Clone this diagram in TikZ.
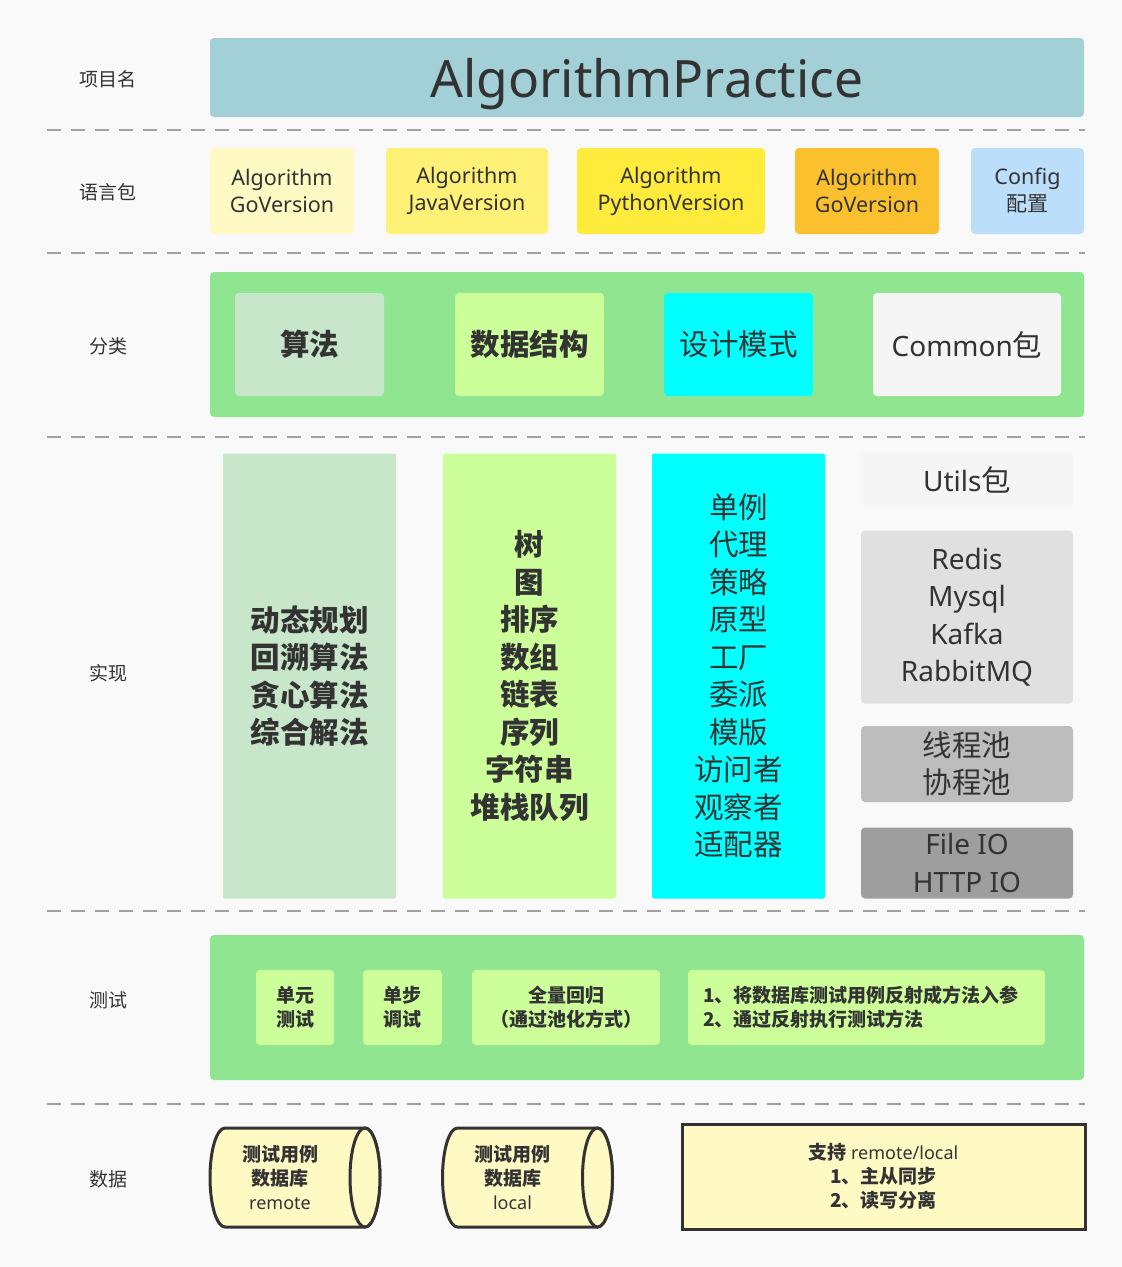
\documentclass[tikz,border=0pt]{standalone}
\usepackage{fontspec}
\setmainfont{Noto Sans CJK SC}
\newfontfamily\lat{Noto Sans}
\usetikzlibrary{calc}

\definecolor{bg}{HTML}{F9F9F9}
\definecolor{ink}{HTML}{333333}
\definecolor{sepgray}{HTML}{A0A0A0}
\definecolor{titlefill}{HTML}{A2D0D6}
\definecolor{goA}{HTML}{FFF9C4}
\definecolor{javaF}{HTML}{FFF176}
\definecolor{pyF}{HTML}{FFEB3B}
\definecolor{goB}{HTML}{FBC02D}
\definecolor{cfgF}{HTML}{BBDEFB}
\definecolor{panel}{HTML}{90E591}
\definecolor{algF}{HTML}{C8E6C9}
\definecolor{dsF}{HTML}{CCFF99}
\definecolor{dpF}{HTML}{00FFFF}
\definecolor{utilF}{HTML}{F5F5F5}
\definecolor{mwF}{HTML}{E0E0E0}
\definecolor{poolF}{HTML}{BDBDBD}
\definecolor{ioF}{HTML}{9E9E9E}
\definecolor{dbF}{HTML}{FFF9C4}

\tikzset{
  box/.style={rectangle, rounded corners=4pt, draw=none, text=ink, align=center, inner sep=0pt},
  rowlabel/.style={text=ink, font=\fontsize{19}{23}\selectfont},
  sepline/.style={draw=sepgray, line width=2pt, dash pattern=on 14pt off 10pt},
  langtxt/.style={font=\lat\fontsize{21.5}{27}\selectfont},
  cattxt/.style={font=\fontsize{29.5}{34}\selectfont},
  impltxt/.style={font=\fontsize{29.5}{37.5}\selectfont},
  impllat/.style={font=\lat\fontsize{28}{37.5}\selectfont},
  testtxt/.style={font=\bfseries\fontsize{19}{24}\selectfont},
  dbline/.style={draw=ink, line width=3pt, fill=dbF},
}

\begin{document}
\begin{tikzpicture}[x=1pt, y=-1pt]
  % canvas
  \path[fill=bg] (0,0) rectangle (1122,1267);

  % separators between the rows
  \foreach \yy/\nm in {130/s1, 253/s2, 437/s3, 911/s4, 1104/s5}{
    \coordinate (\nm a) at (47,\yy);
    \coordinate (\nm b) at (1085,\yy);
    \draw[sepline] (\nm a) -- (\nm b);
  }

  % row labels
  \node[rowlabel] (l1) at (108,79)   {项目名};
  \node[rowlabel] (l2) at (108,192)  {语言包};
  \node[rowlabel] (l3) at (108,346)  {分类};
  \node[rowlabel] (l4) at (108,673)  {实现};
  \node[rowlabel] (l5) at (108,1000) {测试};
  \node[rowlabel] (l6) at (108,1179) {数据};

  % project name
  \node[box, fill=titlefill, minimum width=874, minimum height=79] (title) at (647,77.5) {};
  \node[text=ink, font=\lat\fontsize{51.5}{60}\selectfont, anchor=base] (titletxt) at (647,97.5) {AlgorithmPractice};

  % language packages
  \node[box, langtxt, fill=goA,   minimum width=144, minimum height=86] (go1) at (282,191)    {Algorithm\\GoVersion};
  \node[box, langtxt, fill=javaF, minimum width=162, minimum height=86] (java) at (467,191)   {Algorithm\\JavaVersion};
  \node[box, langtxt, fill=pyF,   minimum width=188, minimum height=86] (py) at (671,191)     {Algorithm\\PythonVersion};
  \node[box, langtxt, fill=goB,   minimum width=144, minimum height=86] (go2) at (867,191)    {Algorithm\\GoVersion};
  \node[box, langtxt, fill=cfgF,  minimum width=113, minimum height=86] (cfg) at (1027.5,191) {Config\\\normalfont\fontsize{21}{27}\selectfont 配置};

  % categories
  \node[box, fill=panel, minimum width=874, minimum height=145] (catpanel) at (647,344.5) {};
  \node[box, cattxt, fill=algF,  minimum width=149, minimum height=103] (alg) at (309.5,344.5) {\bfseries 算法};
  \node[box, cattxt, fill=dsF,   minimum width=149, minimum height=103] (ds) at (529.5,344.5)  {\bfseries 数据结构};
  \node[box, cattxt, fill=dpF,   minimum width=149, minimum height=103] (dp) at (738.5,344.5)  {设计模式};
  \node[box, cattxt, fill=utilF, minimum width=188, minimum height=103] (com) at (967,344.5)   {{\lat\fontsize{28}{34}\selectfont Common}包};

  % implementations
  \node[box, impltxt, fill=algF, rounded corners=2pt, minimum width=173, minimum height=445] (algI) at (309.5,676)
    {\bfseries 动态规划\\\bfseries 回溯算法\\\bfseries 贪心算法\\\bfseries 综合解法};
  \node[box, impltxt, fill=dsF, rounded corners=2pt, minimum width=173, minimum height=445] (dsI) at (529.5,676)
    {\bfseries 树\\\bfseries 图\\\bfseries 排序\\\bfseries 数组\\\bfseries 链表\\\bfseries 序列\\\bfseries 字符串\\\bfseries 堆栈队列};
  \node[box, impltxt, fill=dpF, rounded corners=2pt, minimum width=173, minimum height=445] (dpI) at (738.5,676)
    {单例\\代理\\策略\\原型\\工厂\\委派\\模版\\访问者\\观察者\\适配器};
  \node[box, impltxt, fill=utilF, minimum width=212, minimum height=53] (util) at (967,479.5) {{\lat\fontsize{28}{34}\selectfont Utils}包};
  \node[box, impllat, fill=mwF, minimum width=212, minimum height=173] (mw) at (967,617)
    {Redis\\Mysql\\Kafka\\RabbitMQ};
  \node[box, impltxt, fill=poolF, minimum width=212, minimum height=76] (pool) at (967,764) {线程池\\协程池};
  \node[box, impllat, fill=ioF, minimum width=212, minimum height=71] (io) at (967,863)
    {File IO\\HTTP IO};

  % tests
  \node[box, fill=panel, minimum width=874, minimum height=145] (testpanel) at (647,1007.5) {};
  \node[box, testtxt, fill=dsF, minimum width=78,  minimum height=75] (unit) at (295,1007.5)   {单元\\测试};
  \node[box, testtxt, fill=dsF, minimum width=79,  minimum height=75] (step1) at (402.5,1007.5) {单步\\调试};
  \node[box, testtxt, fill=dsF, minimum width=188, minimum height=75] (full) at (566,1007.5)   {全量回归\\（通过池化方式）};
  \node[box, testtxt, fill=dsF, minimum width=357, minimum height=75, align=left,
        text width=327] (refl) at (866.5,1007.5)
    {1、将数据库测试用例反射成方法入参\\2、通过反射执行测试方法};

  % data stores
  \foreach \nm/\cx/\txt in {db1/295/remote, db2/527.5/local}{
    \coordinate (\nm c) at (\cx,1177.5);
    \draw[dbline] ($(\nm c)+(70,-49.5)$) -- ($(\nm c)+(-70,-49.5)$)
      arc[start angle=270, end angle=90, x radius=15, y radius=49.5]
      -- ($(\nm c)+(70,49.5)$)
      arc[start angle=90, end angle=-90, x radius=15, y radius=49.5] -- cycle;
    \draw[dbline] ($(\nm c)+(70,0)$) ellipse [x radius=15, y radius=49.5];
    \node[testtxt, text=ink, align=center] (\nm) at ($(\nm c)+(-15,0)$)
      {测试用例\\数据库\\{\lat\bfseries\fontsize{18}{24}\selectfont \txt}};
  }
  \node[testtxt, rectangle, draw=ink, line width=3pt, fill=dbF, text=ink, align=center,
        minimum width=403, minimum height=105] (sync) at (883.5,1176.5)
    {支持 {\lat\bfseries\fontsize{18}{24}\selectfont remote/local}\\1、主从同步\\2、读写分离};
\end{tikzpicture}
\end{document}
